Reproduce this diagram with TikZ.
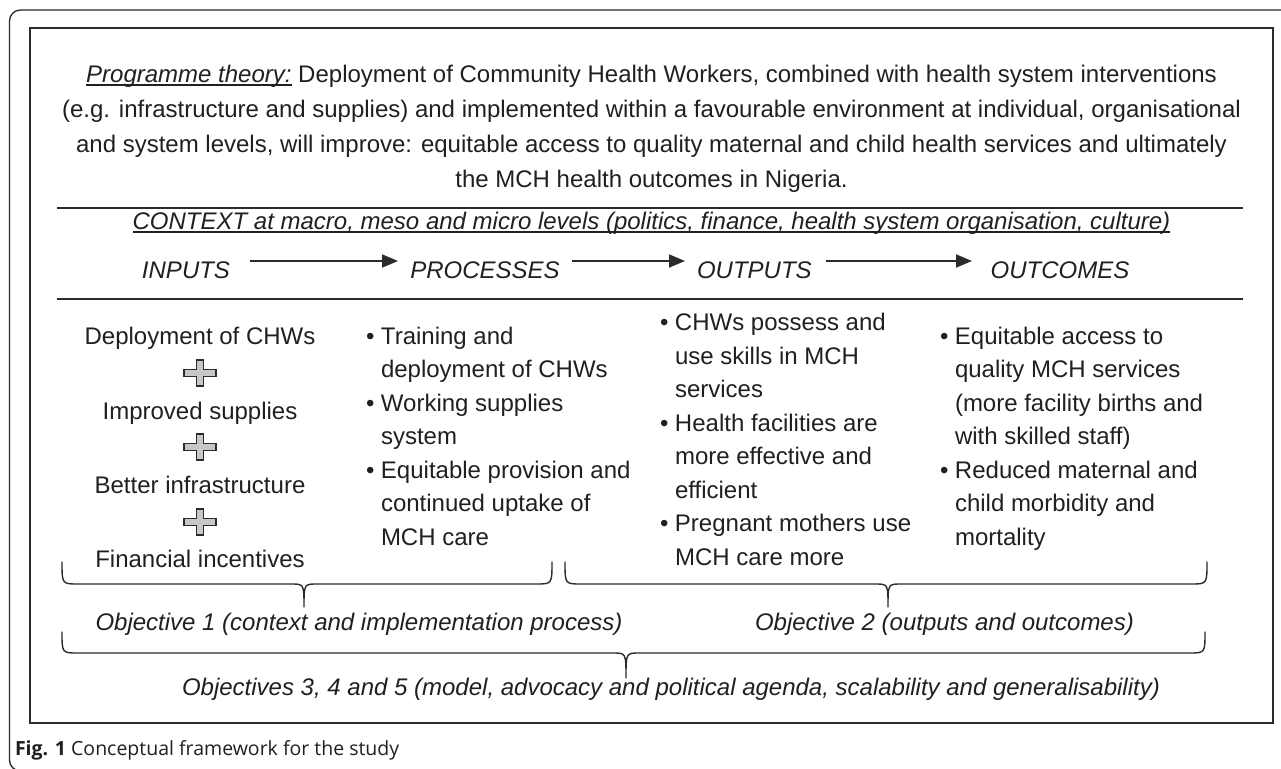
\documentclass[tikz,border=0pt]{standalone}
\usepackage{fontspec}
\setmainfont{Liberation Sans}
\newfontfamily\capfont{Open Sans}
\usetikzlibrary{arrows.meta}
\definecolor{ink}{HTML}{231F20}
\definecolor{ln}{HTML}{2B2B2B}
\newcommand{\bl}{\makebox[15pt][l]{•}}
\newcommand{\ind}{\hspace*{15pt}}
\newcommand{\myul}[1]{\setbox0=\hbox{#1}\rlap{\rule[-3.5pt]{\wd0}{1.2pt}}\box0\relax}
\newcommand{\dbrace}[6]{\draw[brc] (#1,#4) .. controls (#1,#5) .. ({#1+16},#5) -- ({#3-13},#5) .. controls (#3,#5) .. (#3,#6) .. controls (#3,#5) .. ({#3+13},#5) -- ({#2-16},#5) .. controls (#2,#5) .. (#2,#4);}
\newcommand{\plussign}[2]{\draw[plusst] ({#1-16},{#2-3.5}) -- ({#1-3.5},{#2-3.5}) -- ({#1-3.5},{#2-13}) -- ({#1+3.5},{#2-13}) -- ({#1+3.5},{#2-3.5}) -- ({#1+16},{#2-3.5}) -- ({#1+16},{#2+3.5}) -- ({#1+3.5},{#2+3.5}) -- ({#1+3.5},{#2+13}) -- ({#1-3.5},{#2+13}) -- ({#1-3.5},{#2+3.5}) -- ({#1-16},{#2+3.5}) -- cycle;}
\tikzset{
 txt/.style={inner sep=0pt, outer sep=0pt, text=ink, font=\fontsize{24}{28}\selectfont},
 hd/.style={txt, font=\fontsize{24}{28}\selectfont\itshape},
 brc/.style={draw=ln, line width=1.4pt, line cap=round, line join=round},
 arr/.style={draw=ln, line width=1.8pt, -{Triangle[length=16pt,width=13pt]}},
 divline/.style={draw=ln, line width=1.4pt},
 plusst/.style={draw=ln, fill=black!22, line width=1.3pt, line join=miter},
}
\begin{document}
\begin{tikzpicture}[x=1pt,y=-1pt]
\useasboundingbox (0,0) rectangle (1281,768);
\clip (0,0) rectangle (1281,768);
\fill[white] (0,0) rectangle (1281,768);
% frames
\draw[ln, line width=1.3pt, rounded corners=11pt] (1300,10) -- (9.5,10) -- (9.5,771) -- (1300,771);
\draw[ln, line width=2pt] (30,28) rectangle (1273,723);
% programme theory
\node[txt, anchor=base] (pt1) at (651.5,82) {\myul{\itshape Programme theory:} Deployment of Community Health Workers, combined with health system interventions};
\node[txt, anchor=base] (pt2) at (651.5,117) {(e.g. infrastructure and supplies) and implemented within a favourable environment at individual, organisational};
\node[txt, anchor=base] (pt3) at (651.5,152) {and system levels, will improve: equitable access to quality maternal and child health services and ultimately};
\node[txt, anchor=base] (pt4) at (651.5,187) {the MCH health outcomes in Nigeria.};
\draw[divline] (57,208) -- (1243,208);
% context
\node[hd, anchor=base] (ctx) at (651.5,229) {\myul{CONTEXT at macro, meso and micro levels (politics, finance, health system organisation, culture)}};
% headers
\node[hd, anchor=base] (hin) at (186,278) {INPUTS};
\node[hd, anchor=base] (hpr) at (485,278) {PROCESSES};
\node[hd, anchor=base west] (hou) at (697,278) {OUTPUTS};
\node[hd, anchor=base] (hoc) at (1060,278) {OUTCOMES};
\coordinate (a1s) at (250,261); \coordinate (a1e) at (398,261);
\coordinate (a2s) at (572,261); \coordinate (a2e) at (685,261);
\coordinate (a3s) at (826,261); \coordinate (a3e) at (972,261);
\draw[arr] (a1s) -- (a1e);
\draw[arr] (a2s) -- (a2e);
\draw[arr] (a3s) -- (a3e);
\draw[divline] (57,299) -- (1243,299);
% inputs
\node[txt, anchor=base] (in1) at (200,344) {Deployment of CHWs};
\plussign{200}{373}
\node[txt, anchor=base] (in2) at (200,419) {Improved supplies};
\plussign{200}{447}
\node[txt, anchor=base] (in3) at (200,493.5) {Better infrastructure};
\plussign{200}{522}
\node[txt, anchor=base] (in4) at (200,567) {Financial incentives};
% processes
\foreach \t [count=\i] in {{\bl Training and},{\ind deployment of CHWs},{\bl Working supplies},{\ind system},{\bl Equitable provision and},{\ind continued uptake of},{\ind MCH care}}
  \node[txt, anchor=base west] (pr\i) at (366,{344+33.5*(\i-1)}) {\t};
% outputs
\foreach \t [count=\i] in {{\bl CHWs possess and},{\ind use skills in MCH},{\ind services},{\bl Health facilities are},{\ind more effective and},{\ind efficient},{\bl Pregnant mothers use},{\ind MCH care more}}
  \node[txt, anchor=base west] (op\i) at (660,{330.5+33.5*(\i-1)}) {\t};
% outcomes
\foreach \t [count=\i] in {{\bl Equitable access to},{\ind quality MCH services},{\ind (more facility births and},{\ind with skilled staff)},{\bl Reduced maternal and},{\ind child morbidity and},{\ind mortality}}
  \node[txt, anchor=base west] (oc\i) at (940,{344+33.5*(\i-1)}) {\t};
% braces
\dbrace{62}{552}{304}{562}{584}{607}
\dbrace{565}{1207}{888}{562}{584}{607}
\dbrace{62}{1205}{626}{632}{653}{678}
\node[hd, anchor=base] (ob1) at (359,630) {Objective 1 (context and implementation process)};
\node[hd, anchor=base west] (ob2) at (755,630) {Objective 2 (outputs and outcomes)};
\node[hd, anchor=base] (ob3) at (671,695) {Objectives 3, 4 and 5 (model, advocacy and political agenda, scalability and generalisability)};
% caption
\node[txt, anchor=base west, font=\capfont\fontsize{19.5}{22}\selectfont] (cap) at (15,755) {\textbf{Fig. 1} Conceptual framework for the study};
\end{tikzpicture}
\end{document}
